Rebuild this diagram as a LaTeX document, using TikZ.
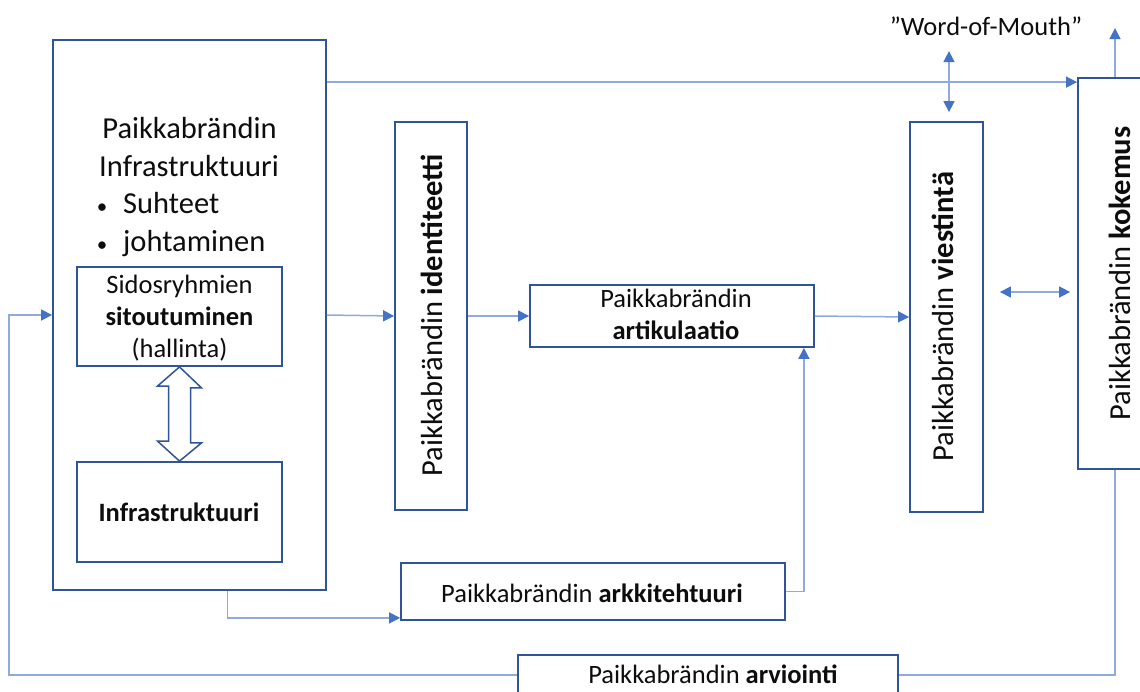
\documentclass[tikz,border=0pt]{standalone}
\usepackage{fontspec}
\setmainfont{Carlito}
\usetikzlibrary{arrows.meta,calc,backgrounds}
\definecolor{boxblue}{HTML}{2F5597}
\definecolor{linkblue}{HTML}{8FAADC}
\definecolor{tipblue}{HTML}{4472C4}
\definecolor{ink}{HTML}{0D0D0D}
\begin{document}
\begin{tikzpicture}[x=1pt,y=-1pt,
  blk/.style={draw=boxblue,line width=1.8pt,fill=white,inner sep=0pt},
  lg/.style={font=\fontsize{30.5}{36}\selectfont,text=ink,inner sep=0pt},
  sm/.style={font=\fontsize{26.5}{32}\selectfont,text=ink,inner sep=0pt},
  bul/.style={font=\fontsize{21}{24}\selectfont,text=ink,inner sep=0pt},
  conn/.style={draw=linkblue,line width=1.5pt},
  arr/.style={-{Triangle[length=11pt,width=11pt,color=tipblue]}},
  darr/.style={{Triangle[length=11pt,width=11pt,color=tipblue]}-{Triangle[length=11pt,width=11pt,color=tipblue]}}]
\useasboundingbox (0,0) rectangle (1140,691);

% boxes
\node[blk,minimum width=273pt,minimum height=550pt] (big) at (189.5,315) {};
\node[blk,minimum width=205pt,minimum height=99pt] (sido) at (179.5,316.5) {};
\node[blk,minimum width=205pt,minimum height=100pt] (infra) at (179.5,512) {};
\node[blk,minimum width=72pt,minimum height=388pt] (ident) at (431,316) {};
\node[blk,minimum width=284pt,minimum height=62pt] (artik) at (672,316) {};
\node[blk,minimum width=73pt,minimum height=390pt] (viest) at (946.5,317) {};
\node[blk,minimum width=78pt,minimum height=391pt] (kok) at (1117,273.5) {};
\node[blk,minimum width=384pt,minimum height=57pt] (arkk) at (593,591.5) {};
\node[blk,minimum width=380pt,minimum height=40pt] (arvi) at (708,675) {};

% hollow double arrow between the two inner boxes
\draw[draw=boxblue,line width=1.5pt,fill=white,line join=miter]
  (sido.south) -- ++(22,21) -- ++(-11,0) -- ++(0,55) -- ++(11,0) -- (infra.north)
  -- ++(-22,-20) -- ++(11,0) -- ++(0,-55) -- ++(-11,0) -- cycle;

% texts of the large box
\node[lg,anchor=base] (bt1) at (189.5,138) {Paikkabrändin};
\node[lg,anchor=base] (bt2) at (189,176) {Infrastruktuuri};
\node[bul,anchor=base] (bul1) at (102,213) {•};
\node[lg,anchor=base west] (bt3) at (123,213) {Suhteet};
\node[bul,anchor=base] (bul2) at (102,251) {•};
\node[lg,anchor=base west] (bt4) at (123,251) {johtaminen};

\node[sm,anchor=base] (st1) at (179.5,293) {Sidosryhmien};
\node[sm,anchor=base] (st2) at (179.5,325) {\textbf{sitoutuminen}};
\node[sm,anchor=base] (st3) at (179.5,357) {(hallinta)};
\node[sm,anchor=base] (it1) at (179,521) {\textbf{Infrastruktuuri}};

% vertical labels
\node[lg,rotate=90,anchor=base] (idt) at (442,315) {Paikkabrändin \textbf{identiteetti}};
\node[lg,rotate=90,anchor=base] (vit) at (953,316.5) {Paikkabrändin \textbf{viestintä}};
\node[lg,rotate=90,anchor=base] (kot) at (1130,273.5) {Paikkabrändin \textbf{kokemus}};

% horizontal labels
\node[sm,anchor=base] (at1) at (676,307) {Paikkabrändin};
\node[sm,anchor=base] (at2) at (676,339) {\textbf{artikulaatio}};
\node[sm,anchor=base] (akt) at (592,602) {Paikkabrändin \textbf{arkkitehtuuri}};
\node[sm,anchor=base] (avt) at (713,683) {Paikkabrändin \textbf{arviointi}};
\node[sm,anchor=base] (wom) at (986,35) {”Word-of-Mouth”};

% connectors
\draw[conn,arr] (big.east) -- (ident.west);
\draw[conn,arr] (ident.east) -- (artik.west);
\draw[conn,arr] (artik.east) -- (viest.west);
\draw[conn,arr] (arkk.east) -| ($(artik.south east)+(-11,0)$);
\draw[conn,arr] ($(big.south)+(38,0)$) |- ($(arkk.south west)+(0,-3)$);
\coordinate (topin) at ($(kok.north west)+(0,5)$);
\draw[conn,arr] (big.east |- topin) -- (topin);
\draw[conn,darr] ($(viest.north)+(2.5,-9)$) -- ($(viest.north)+(2.5,-70)$);
\draw[conn,arr] ($(kok.north)+(-2,0)$) -- ++(0,-49);
\draw[conn,darr] ($(viest.east)+(16,-25)$) -- ($(kok.west)+(-7,18.5)$);

% feedback loop running behind the evaluation box
\begin{scope}[on background layer]
  \fill[white] (0,0) rectangle (1140,691);
  \coordinate (loopbl) at (9,675);
  \draw[conn,arr] ($(kok.south)+(-2,0)$) |- (loopbl) |- (big.west);
\end{scope}
\end{tikzpicture}
\end{document}
